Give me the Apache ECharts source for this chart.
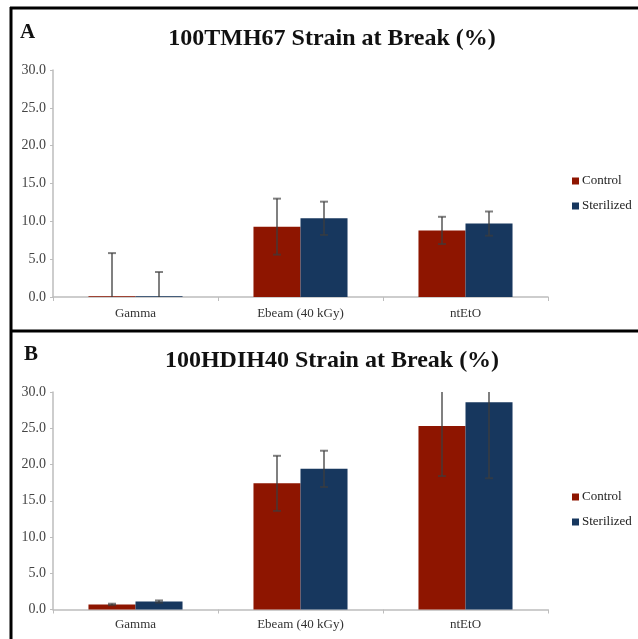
<!DOCTYPE html>
<html>
<head>
<meta charset="utf-8">
<script src="https://cdn.jsdelivr.net/npm/echarts@6/dist/echarts.min.js"></script>
<style>
  html, body { margin: 0; padding: 0; background: #fff; }
  #main { width: 638px; height: 639px; }
</style>
</head>
<body>
<div id="main"></div>
<script>
// data
var categories = ['Gamma', 'Ebeam (40 kGy)', 'ntEtO'];
var yTicks = [0, 5, 10, 15, 20, 25, 30];

// panel A - 100TMH67
var controlA = [0.1, 9.3, 8.8];
var controlErrA = [5.7, 3.7, 1.8];
var sterilA = [0.1, 10.4, 9.7];
var sterilErrA = [3.2, 2.2, 1.6];

// panel B - 100HDIH40
var controlB = [0.7, 17.4, 25.3];
var controlErrB = [0.1, 3.8, 6.9];
var sterilB = [1.1, 19.4, 28.6];
var sterilErrB = [0.15, 2.5, 10.5];

var serif = "'Liberation Serif', 'Times New Roman', serif";
var colors = ['#8e1500', '#17375e'];
var catGap = 0.43;
var yMax = yTicks[yTicks.length - 1];

var myChart = echarts.init(document.getElementById('main'));

function errData(means, errs) {
    return means.map(function (m, i) { return [i, m, errs[i]]; });
}

// error bar with caps, side -1 = left bar, 1 = right bar
function errSeries(name, means, errs, side, idx) {
    return {
        name: name,
        type: 'custom',
        xAxisIndex: idx,
        yAxisIndex: idx,
        z: 5,
        data: errData(means, errs),
        renderItem: function (params, api) {
            var cat = api.value(0), mean = api.value(1), err = api.value(2);
            var hi = Math.min(mean + err, yMax);
            var lo = Math.max(mean - err, 0);
            var pTop = api.coord([cat, hi]);
            var pBot = api.coord([cat, lo]);
            var band = api.size([1, 0])[0];
            var barW = band * (1 - catGap) / 2;
            var x = pTop[0] + side * barW / 2;
            var st = { stroke: 'rgba(60,60,60,0.65)', lineWidth: 2 };
            var kids = [{ type: 'line', shape: { x1: x, y1: pTop[1], x2: x, y2: pBot[1] }, style: st }];
            if (mean + err <= yMax) kids.push({ type: 'line', shape: { x1: x - 4, y1: pTop[1], x2: x + 4, y2: pTop[1] }, style: st });
            if (mean - err >= 0) kids.push({ type: 'line', shape: { x1: x - 4, y1: pBot[1], x2: x + 4, y2: pBot[1] }, style: st });
            return { type: 'group', children: kids };
        }
    };
}

function xAx(idx, margin) {
    return {
        type: 'category',
        gridIndex: idx,
        data: categories,
        axisLine: { lineStyle: { color: '#bdbdbd', width: 1.5 } },
        axisTick: { show: true, length: 4, lineStyle: { color: '#bdbdbd' } },
        axisLabel: { color: '#333', fontFamily: serif, fontSize: 13, margin: margin }
    };
}

function yAx(idx) {
    return {
        type: 'value',
        gridIndex: idx,
        min: yTicks[0],
        max: yMax,
        interval: yTicks[1] - yTicks[0],
        axisLine: { show: true, lineStyle: { color: '#bdbdbd', width: 1.5 } },
        axisTick: { show: true, length: 3, lineStyle: { color: '#bdbdbd' } },
        splitLine: { show: false },
        axisLabel: {
            color: '#444', fontFamily: serif, fontSize: 14, margin: 7,
            formatter: function (v) { return v.toFixed(1); }
        }
    };
}

function barSeries(name, data, idx, color) {
    return {
        name: name,
        type: 'bar',
        xAxisIndex: idx,
        yAxisIndex: idx,
        data: data,
        barGap: '0%',
        barCategoryGap: (catGap * 100) + '%',
        itemStyle: { color: color },
        z: 2
    };
}

function legendAt(top) {
    return {
        data: ['Control', 'Sterilized'],
        orient: 'vertical',
        left: 572,
        top: top,
        padding: 0,
        icon: 'rect',
        itemWidth: 7,
        itemHeight: 7,
        itemGap: 11,
        textStyle: { color: '#222', fontFamily: serif, fontSize: 13, lineHeight: 14, padding: [0, 0, 0, -2] }
    };
}

option = {
    backgroundColor: '#fff',
    animation: false,
    color: colors,
    title: [
        { text: 'A', left: 20, top: 22, padding: 0, textStyle: { fontFamily: serif, fontWeight: 'bold', fontSize: 21, color: '#111' } },
        { text: '100TMH67 Strain at Break (%)', left: 332, textAlign: 'center', top: 27, padding: 0,
          textStyle: { fontFamily: serif, fontWeight: 'bold', fontSize: 24, color: '#111' } },
        { text: 'B', left: 24, top: 344, padding: 0, textStyle: { fontFamily: serif, fontWeight: 'bold', fontSize: 21, color: '#111' } },
        { text: '100HDIH40 Strain at Break (%)', left: 332, textAlign: 'center', top: 349, padding: 0,
          textStyle: { fontFamily: serif, fontWeight: 'bold', fontSize: 24, color: '#111' } }
    ],
    legend: [legendAt(174), legendAt(490)],
    grid: [
        { left: 53, right: 90, top: 70, height: 227 },
        { left: 53, right: 90, top: 392, height: 217.5 }
    ],
    xAxis: [xAx(0, 10), xAx(1, 9)],
    yAxis: [yAx(0), yAx(1)],
    series: [
        barSeries('Control', controlA, 0, colors[0]),
        barSeries('Sterilized', sterilA, 0, colors[1]),
        barSeries('Control', controlB, 1, colors[0]),
        barSeries('Sterilized', sterilB, 1, colors[1]),
        errSeries('errCA', controlA, controlErrA, -1, 0),
        errSeries('errSA', sterilA, sterilErrA, 1, 0),
        errSeries('errCB', controlB, controlErrB, -1, 1),
        errSeries('errSB', sterilB, sterilErrB, 1, 1)
    ],
    // panel frame lines
    graphic: [
        { type: 'line', shape: { x1: 10, y1: 8, x2: 638, y2: 8 }, style: { stroke: '#000', lineWidth: 3 } },
        { type: 'line', shape: { x1: 11, y1: 7, x2: 11, y2: 639 }, style: { stroke: '#000', lineWidth: 3 } },
        { type: 'line', shape: { x1: 10, y1: 331, x2: 638, y2: 331 }, style: { stroke: '#000', lineWidth: 3 } }
    ]
};

myChart.setOption(option);
</script>
</body>
</html>
